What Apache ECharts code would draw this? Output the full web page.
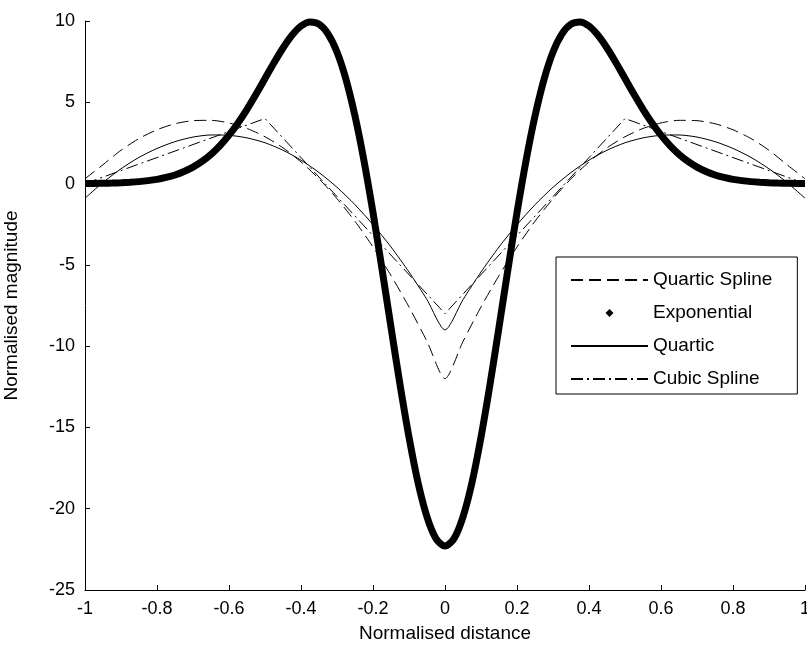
<!DOCTYPE html>
<html>
<head>
<meta charset="utf-8">
<script src="https://cdn.jsdelivr.net/npm/echarts@6/dist/echarts.min.js"></script>
<style>
html, body { margin: 0; padding: 0; background: #fff; }
#container { width: 807px; height: 649px; }
</style>
</head>
<body>
<div id="container"></div>
<script>
// x positions (normalised distance) for the quartic curves
var xs = [-1, -0.95, -0.9, -0.85, -0.8, -0.75, -0.7, -0.65, -0.6, -0.55, -0.5,
          -0.45, -0.4, -0.35, -0.3, -0.25, -0.2, -0.15, -0.1, -0.05, 0,
          0.05, 0.1, 0.15, 0.2, 0.25, 0.3, 0.35, 0.4, 0.45, 0.5,
          0.55, 0.6, 0.65, 0.7, 0.75, 0.8, 0.85, 0.9, 0.95, 1];

var quarticSpline = [0.3, 1.16, 2.05, 2.77, 3.31, 3.68, 3.87, 3.89, 3.73, 3.39, 2.88,
                     2.2, 1.33, 0.29, -0.93, -2.32, -3.9, -5.66, -7.59, -9.71, -12,
                     -9.71, -7.59, -5.66, -3.9, -2.32, -0.93, 0.29, 1.33, 2.2, 2.88,
                     3.39, 3.73, 3.89, 3.87, 3.68, 3.31, 2.77, 2.05, 1.16, 0.3];

var quartic = [-0.9, 0.07, 0.91, 1.61, 2.16, 2.58, 2.86, 2.99, 2.97, 2.81, 2.51,
               2.05, 1.44, 0.68, -0.23, -1.3, -2.53, -3.9, -5.44, -7.14, -9,
               -7.14, -5.44, -3.9, -2.53, -1.3, -0.23, 0.68, 1.44, 2.05, 2.51,
               2.81, 2.97, 2.99, 2.86, 2.58, 2.16, 1.61, 0.91, 0.07, -0.9];

// exponential is sampled finer (0 .. 1, step 0.025), mirrored for x < 0
var expX = [0, 0.025, 0.05, 0.075, 0.1, 0.125, 0.15, 0.175, 0.2, 0.225, 0.25,
            0.275, 0.3, 0.325, 0.35, 0.375, 0.4, 0.425, 0.45, 0.475, 0.5,
            0.525, 0.55, 0.575, 0.6, 0.625, 0.65, 0.675, 0.7, 0.725, 0.75,
            0.775, 0.8, 0.825, 0.85, 0.875, 0.9, 0.925, 0.95, 0.975, 1];
var exponential = [-22.3, -21.84, -20.5, -18.39, -15.6, -12.36, -8.84, -5.25, -1.78, 1.4, 4.15,
                   6.4, 8.09, 9.21, 9.81, 9.94, 9.69, 9.12, 8.34, 7.43, 6.46,
                   5.49, 4.57, 3.73, 2.98, 2.34, 1.8, 1.36, 1.01, 0.74, 0.53,
                   0.38, 0.26, 0.18, 0.12, 0.08, 0.05, 0.03, 0.02, 0.01, 0.01];

// cubic spline is straight between its knots
var cubicX = [-1, -0.5, 0, 0.5, 1];
var cubicSpline = [0, 4, -8, 4, 0];

var xTicks = [-1, -0.8, -0.6, -0.4, -0.2, 0, 0.2, 0.4, 0.6, 0.8, 1];
var yTicks = [-25, -20, -15, -10, -5, 0, 5, 10];

function pairs(x, y) {
    var out = [];
    for (var i = 0; i < x.length; i++) {
        out.push([x[i], y[i]]);
    }
    return out;
}

// both halves of a symmetric curve
function mirrored(x, y) {
    var out = [];
    for (var i = x.length - 1; i > 0; i--) {
        out.push([-x[i], y[i]]);
    }
    return out.concat(pairs(x, y));
}

var font = 'Liberation Sans, Arial, sans-serif';
var dom = document.getElementById('container');
var myChart = echarts.init(dom, null, {renderer: 'canvas'});

var axisCommon = {
    axisLine: {show: true, onZero: false, lineStyle: {color: '#000', width: 1}},
    axisTick: {show: true, inside: true, length: 5, lineStyle: {color: '#000'}},
    splitLine: {show: false},
    nameLocation: 'middle',
    nameTextStyle: {color: '#000', fontSize: 19, fontFamily: font}
};

var option = {
    backgroundColor: '#fff',
    animation: false,
    grid: {left: 85, right: 2, top: 21, bottom: 59, outerBoundsMode: 'none', containLabel: false},
    legend: {
        orient: 'vertical',
        left: 556,
        top: 257,
        padding: [13, 25, 5, 14],
        itemWidth: 77,
        itemHeight: 8,
        itemGap: 13,
        backgroundColor: '#fff',
        borderColor: '#000',
        borderWidth: 1,
        borderRadius: 0,
        itemStyle: {opacity: 0},
        textStyle: {color: '#000', fontSize: 19, fontFamily: font, lineHeight: 20},
        data: [
            {name: 'Quartic Spline'},
            {name: 'Exponential', icon: 'path://M4,0L8,4L4,8L0,4Z', itemStyle: {opacity: 1, color: '#000'}},
            {name: 'Quartic'},
            {name: 'Cubic Spline'}
        ]
    },
    xAxis: Object.assign({}, axisCommon, {
        type: 'value',
        min: xTicks[0],
        max: xTicks[xTicks.length - 1],
        interval: 0.2,
        name: 'Normalised distance',
        nameGap: 34,
        axisLabel: {color: '#000', fontSize: 18, fontFamily: font, margin: 10}
    }),
    yAxis: Object.assign({}, axisCommon, {
        type: 'value',
        min: yTicks[0],
        max: yTicks[yTicks.length - 1],
        interval: 5,
        name: 'Normalised magnitude',
        nameGap: 64,
        axisLabel: {color: '#000', fontSize: 18, fontFamily: font, margin: 10}
    }),
    series: [
        {
            name: 'Quartic Spline',
            type: 'line',
            data: pairs(xs, quarticSpline),
            smooth: 0.25,
            symbol: 'none',
            itemStyle: {color: '#000'},
            lineStyle: {color: '#000', width: 1, type: [12, 6]}
        },
        {
            name: 'Exponential',
            type: 'line',
            data: mirrored(expX, exponential),
            smooth: 0.3,
            symbol: 'none',
            clip: false,
            itemStyle: {color: '#000'},
            lineStyle: {color: '#000', width: 7}
        },
        {
            name: 'Quartic',
            type: 'line',
            data: pairs(xs, quartic),
            smooth: 0.25,
            symbol: 'none',
            itemStyle: {color: '#000'},
            lineStyle: {color: '#000', width: 1}
        },
        {
            name: 'Cubic Spline',
            type: 'line',
            data: pairs(cubicX, cubicSpline),
            symbol: 'none',
            itemStyle: {color: '#000'},
            lineStyle: {color: '#000', width: 1, type: [12, 4, 2, 4]}
        }
    ]
};

if (option && typeof option === "object") {
    myChart.setOption(option, true);
}
</script>
</body>
</html>
